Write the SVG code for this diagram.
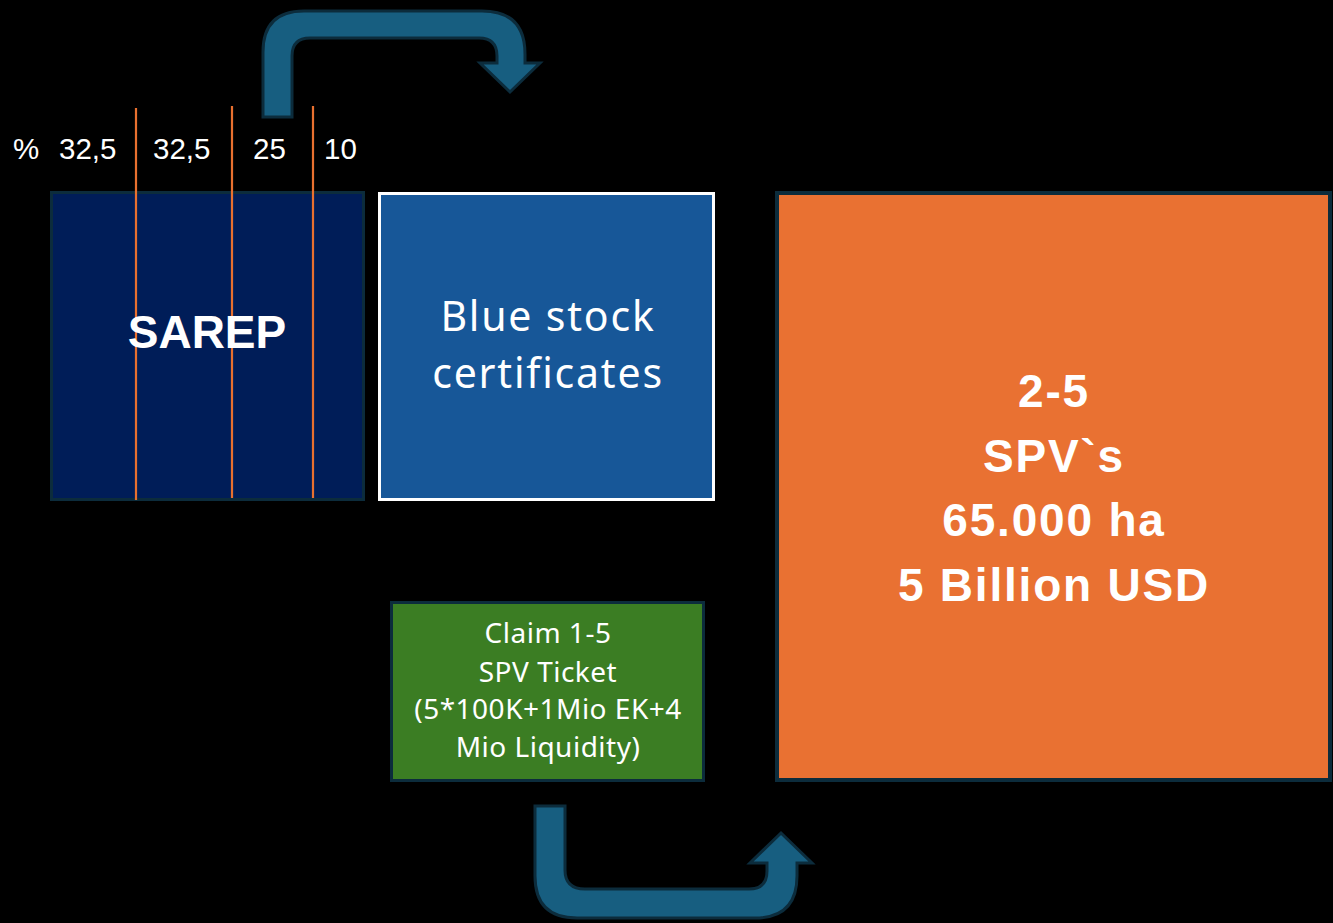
<svg xmlns="http://www.w3.org/2000/svg" width="1333" height="923" viewBox="0 0 1333 923">
<style>
.bg{fill:#000}
.arrow{fill:#175e80;stroke:#0c2c3c;stroke-width:3;stroke-linejoin:miter}
.pct{font-family:"Liberation Sans",Arial,sans-serif;font-size:29.5px;fill:#fff}
.div{stroke:#e8702f;stroke-width:2.2}
.w{fill:#fff;text-anchor:middle}
.sans{font-family:"Noto Sans","Open Sans",sans-serif}
.bold{font-family:"Liberation Sans",Arial,sans-serif;font-weight:bold}
</style>
<rect class="bg" x="0" y="0" width="1333" height="923"/>
<g id="connectors">
<path id="arrow-top" class="arrow" d="M263,117 L263,52 Q263,11 304,11 L482,11 Q525,11 525,54 L525,63 L540,63 L510,92 L480,63 L497,63 L497,56 Q497,38 479,38 L310,38 Q292,38 292,56 L292,117 Z"/>
<path id="arrow-bottom" class="arrow" d="M535,806 L565,806 L565,870 Q565,889 585,889 L749,889 Q767,889 767,871 L767,863 L750,863 L781,833 L812,863 L797,863 L797,876 Q797,918 755,918 L577,918 Q535,918 535,876 Z"/>
</g>
<g id="sarep">
<rect x="51.5" y="192.5" width="312" height="307" fill="#001d58" stroke="#0c2c3c" stroke-width="3"/>
<line class="div" x1="136" y1="108" x2="136" y2="500"/>
<line class="div" x1="232" y1="106" x2="232" y2="498"/>
<line class="div" x1="313" y1="106" x2="313" y2="498"/>
<text class="w bold" x="207" y="348" font-size="46">SAREP</text>
</g>
<g id="percent-labels">
<text class="pct" x="13" y="159">%</text>
<text class="pct" x="59" y="159">32,5</text>
<text class="pct" x="153" y="159">32,5</text>
<text class="pct" x="253" y="159">25</text>
<text class="pct" x="324" y="159">10</text>
</g>
<g id="blue-stock">
<rect x="379.5" y="193.5" width="334" height="306" fill="#175798" stroke="#fff" stroke-width="3"/>
<text class="w sans" x="548" y="331" font-size="41" letter-spacing="1.8">Blue stock</text>
<text class="w sans" x="548" y="388" font-size="41" letter-spacing="1.8">certificates</text>
</g>
<g id="claim">
<rect x="391.5" y="602.5" width="312" height="178" fill="#3b7d23" stroke="#0c2c3c" stroke-width="3"/>
<text class="w sans" x="548" y="643" font-size="28" letter-spacing="0.5">Claim 1-5</text>
<text class="w sans" x="548" y="682" font-size="28" letter-spacing="0.5">SPV Ticket</text>
<text class="w sans" x="548" y="719" font-size="28" letter-spacing="0.5">(5*100K+1Mio EK+4</text>
<text class="w sans" x="548" y="757" font-size="28" letter-spacing="0.5">Mio Liquidity)</text>
</g>
<g id="spv">
<rect x="777" y="193" width="553" height="587" fill="#e97132" stroke="#0c2c3c" stroke-width="4"/>
<text class="w bold" x="1054" y="407" font-size="46" letter-spacing="1.8">2-5</text>
<text class="w bold" x="1054" y="472" font-size="46" letter-spacing="1.8">SPV`s</text>
<text class="w bold" x="1054" y="536" font-size="46" letter-spacing="1.8">65.000 ha</text>
<text class="w bold" x="1054" y="601" font-size="46" letter-spacing="1.8">5 Billion USD</text>
</g>
</svg>
